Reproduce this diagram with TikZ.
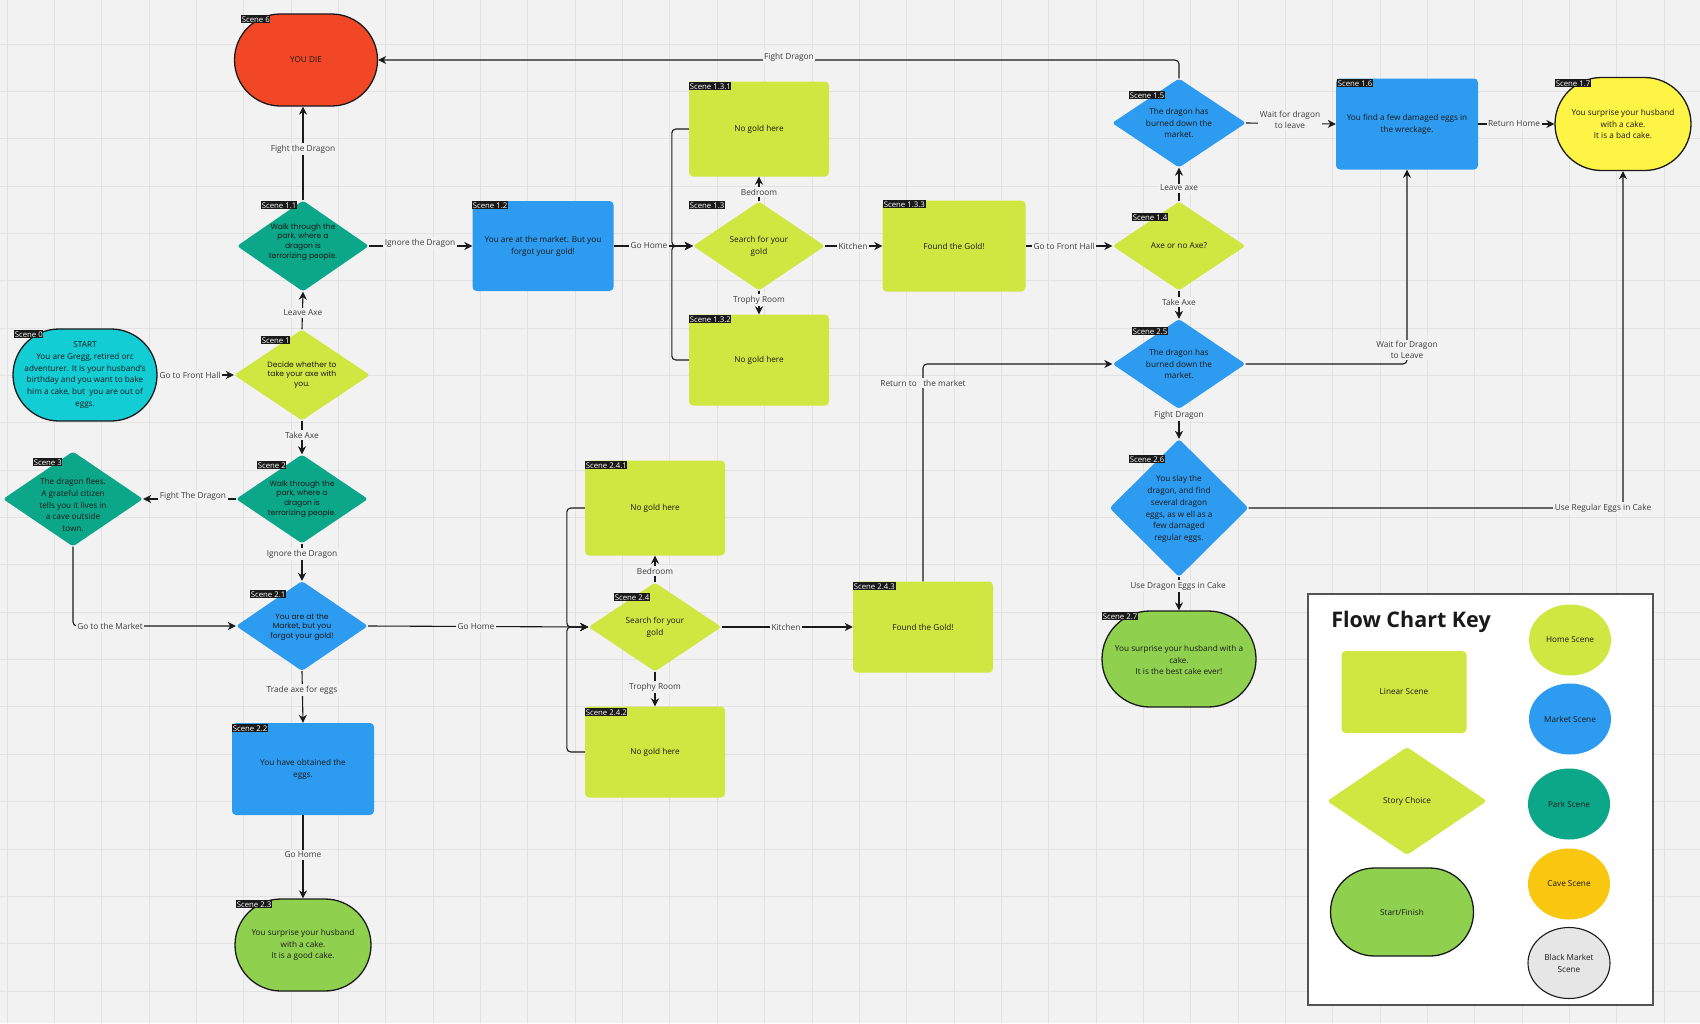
\documentclass[tikz,border=0pt]{standalone}
\usepackage{fontspec}
\setmainfont{Open Sans}
\newfontfamily\popfont{Poppins}
\usetikzlibrary{shapes.geometric,shapes.misc,arrows.meta}
\definecolor{bgc}{HTML}{F2F2F2}
\definecolor{gridc}{HTML}{E2E2E2}
\definecolor{lime}{HTML}{CEE741}
\definecolor{mblue}{HTML}{2D9BF0}
\definecolor{parkc}{HTML}{0CA789}
\definecolor{startc}{HTML}{12CDD4}
\definecolor{diec}{HTML}{F24726}
\definecolor{finc}{HTML}{8FD14F}
\definecolor{badc}{HTML}{FEF445}
\definecolor{cavec}{HTML}{FAC710}
\definecolor{blackmc}{HTML}{E6E6E6}
\definecolor{ink}{HTML}{1A1A1A}
\tikzset{
  box/.style={rectangle, rounded corners=4pt, inner sep=0pt, align=center, text=ink, font=\fontsize{8.2}{12}\selectfont},
  dia/.style={diamond, rounded corners=3pt, inner sep=0pt},
  stad/.style={rounded rectangle, draw=ink, line width=1.3pt, inner sep=0pt},
  oval/.style={ellipse, inner sep=0pt, minimum width=82, minimum height=71, align=center, text=ink, font=\fontsize{8.2}{12}\selectfont},
  txt/.style={align=center, text=ink, font=\fontsize{8.2}{11.8}\selectfont, inner sep=0pt},
  ptxt/.style={align=center, text=ink, font=\popfont\fontsize{7.6}{9.7}\selectfont, inner sep=0pt},
  tag/.style={fill=ink, text=white, font=\fontsize{7.8}{9}\selectfont, inner xsep=0.6pt, inner ysep=1.2pt, anchor=north west},
  conn/.style={draw=ink, line width=1.1pt, -{Stealth[length=8pt,width=8pt,inset=2.5pt]}, rounded corners=4pt},
  lbl/.style={fill=bgc, text=ink!85, font=\fontsize{8.3}{11}\selectfont, inner sep=1.5pt, align=center},
}
\begin{document}
\begin{tikzpicture}[x=1pt,y=-1pt]
\fill[bgc] (0,0) rectangle (1700,1023);
\useasboundingbox (0,0) rectangle (1700,1023);
\foreach \i in {0,...,35} {\draw[gridc, line width=0.9pt] ({7+47.35*\i},0) -- ({7+47.35*\i},1023);}
\foreach \i in {0,...,20} {\draw[gridc, line width=0.9pt] (0,{44+47.35*\i}) -- (1700,{44+47.35*\i});}

% ---------- shapes ----------
\node[stad, fill=diec, minimum width=143, minimum height=92] (s6) at (306,60) {};
\node[txt] (t6) at (s6) {YOU DIE};

\node[dia, fill=parkc, minimum width=132, minimum height=91] (s11) at (303,246) {};
\node[ptxt] (t11) at (303,242) {Walk through the\\park, where a\\dragon is\\terrorizing people.};

\node[dia, fill=lime, minimum width=136, minimum height=91] (s1) at (302,375) {};
\node[ptxt] (t1) at (302,375) {Decide whether to\\take your axe with\\you.};

\node[stad, fill=startc, minimum width=144, minimum height=92] (s0) at (85,375) {};
\node[txt] (t0) at (85,375) {START\\You are Gregg, retired orc\\adventurer. It is your husband's\\birthday and you want to bake\\him a cake, but\ \ you are out of\\eggs.};

\node[dia, fill=parkc, minimum width=132, minimum height=89] (s2) at (302,499) {};
\node[ptxt] (t2) at (302,499) {Walk through the\\park, where a\\dragon is\\terrorizing people.};

\node[dia, fill=parkc, minimum width=140, minimum height=95] (s3) at (73,499) {};
\node[txt] (t3) at (73,505) {The dragon flees.\\A grateful citizen\\tells you it lives in\\a cave outside\\town.};

\node[dia, fill=mblue, minimum width=132, minimum height=90] (s21) at (302,626) {};
\node[ptxt] (t21) at (302,627) {You are at the\\Market, but you\\forgot your gold!};

\node[box, fill=mblue, minimum width=142, minimum height=92] (s22) at (303,769) {You have obtained the\\eggs.};

\node[stad, fill=finc, minimum width=136, minimum height=92] (s23) at (303,945) {};
\node[txt] (t23) at (303,945) {You surprise your husband\\with a cake.\\It is a good cake.};

\node[box, fill=mblue, minimum width=141, minimum height=90] (s12) at (543,246) {You are at the market. But you\\forgot your gold!};

\node[box, fill=lime, minimum width=140, minimum height=95] (s131) at (759,129) {No gold here};
\node[dia, fill=lime, minimum width=132, minimum height=89] (s13) at (759,246) {};
\node[txt] (t13) at (759,246) {Search for your\\gold};
\node[box, fill=lime, minimum width=140, minimum height=91] (s132) at (759,360) {No gold here};
\node[box, fill=lime, minimum width=143, minimum height=91] (s133) at (954,246) {Found the Gold!};

\node[dia, fill=lime, minimum width=133, minimum height=89] (s14) at (1179,246) {};
\node[txt] (t14) at (1179,246) {Axe or no Axe?};
\node[dia, fill=mblue, minimum width=134, minimum height=89] (s15) at (1179,123) {};
\node[txt] (t15) at (1179,123) {The dragon has\\burned down the\\market.};
\node[dia, fill=mblue, minimum width=133, minimum height=90] (s25) at (1179,364) {};
\node[txt] (t25) at (1179,364) {The dragon has\\burned down the\\market.};
\node[dia, fill=mblue, minimum width=139, minimum height=138] (s26) at (1179,508) {};
\node[txt] (t26) at (1179,509) {You slay the\\dragon, and find\\several dragon\\eggs, as w ell as a\\few damaged\\regular eggs.};
\node[stad, fill=finc, minimum width=154, minimum height=96] (s27) at (1179,659) {};
\node[txt] (t27) at (1179,660) {You surprise your husband with a\\cake.\\It is the best cake ever!};

\node[box, fill=mblue, minimum width=142, minimum height=91] (s16) at (1407,124) {You find a few damaged eggs in\\the wreckage.};
\node[stad, fill=badc, minimum width=136, minimum height=93] (s17) at (1623,124) {};
\node[txt] (t17) at (1623,124) {You surprise your husband\\with a cake.\\It is a bad cake.};

\node[box, fill=lime, minimum width=140, minimum height=95] (s241) at (655,508) {No gold here};
\node[dia, fill=lime, minimum width=133, minimum height=89] (s24) at (655,627) {};
\node[txt] (t24) at (655,627) {Search for your\\gold};
\node[box, fill=lime, minimum width=140, minimum height=91] (s242) at (655,752) {No gold here};
\node[box, fill=lime, minimum width=140, minimum height=91] (s243) at (923,627) {Found the Gold!};

% ---------- scene tags ----------
\node[tag] (g6) at (241,15) {Scene 6};
\node[tag] (g11) at (261,201) {Scene 1.1};
\node[tag] (g1) at (261,336) {Scene 1};
\node[tag] (g0) at (14,330) {Scene 0};
\node[tag] (g2) at (257,461) {Scene 2};
\node[tag] (g3) at (33,458) {Scene 3};
\node[tag] (g21) at (250,590) {Scene 2.1};
\node[tag] (g22) at (232,724) {Scene 2.2};
\node[tag] (g23) at (236,900) {Scene 2.3};
\node[tag] (g12) at (472,201) {Scene 1.2};
\node[tag] (g131) at (689,82) {Scene 1.3.1};
\node[tag] (g13) at (689,201) {Scene 1.3};
\node[tag] (g132) at (689,315) {Scene 1.3.2};
\node[tag] (g133) at (883,200) {Scene 1.3.3};
\node[tag] (g14) at (1132,213) {Scene 1.4};
\node[tag] (g15) at (1129,91) {Scene 1.5};
\node[tag] (g25) at (1132,327) {Scene 2.5};
\node[tag] (g26) at (1129,455) {Scene 2.6};
\node[tag] (g27) at (1102,612) {Scene 2.7};
\node[tag] (g16) at (1337,79) {Scene 1.6};
\node[tag] (g17) at (1555,79) {Scene 1.7};
\node[tag] (g241) at (585,461) {Scene 2.4.1};
\node[tag] (g24) at (614,593) {Scene 2.4};
\node[tag] (g242) at (585,708) {Scene 2.4.2};
\node[tag] (g243) at (853,582) {Scene 2.4.3};

% ---------- connectors ----------
\draw[conn] (s0.east) -- (s1.west);
\draw[conn] (s1.north) -- (s11.south);
\draw[conn] (s11.north) -- (s11.north |- s6.south);
\draw[conn] (s11.east) -- (s12.west);
\draw[conn] (s1.south) -- (s2.north);
\draw[conn] (s2.west) -- (s3.east);
\draw[conn] (s2.south) -- (s21.north);
\draw[conn] (s3.south) |- (s21.west);
\draw[conn] (s21.south) -- (s22.north);
\draw[conn] (s22.south) -- (s23.north);
\draw[conn] (s12.east) -- (s13.west);
\draw[conn] (s131.west) -- ++(-17,0) |- (s13.west);
\draw[conn] (s132.west) -- ++(-17,0) |- (s13.west);
\draw[conn] (s13.north) -- (s131.south);
\draw[conn] (s13.south) -- (s132.north);
\draw[conn] (s13.east) -- (s133.west);
\draw[conn] (s133.east) -- (s14.west);
\draw[conn] (s14.north) -- (s15.south);
\draw[conn] (s14.south) -- (s25.north);
\draw[conn] (s15.north) |- (s6.east);
\draw[conn] (s15.east) -- (s16.west);
\draw[conn] (s16.east) -- (s17.west);
\draw[conn] (s25.east) -| (s16.south);
\draw[conn] (s243.north) |- (s25.west);
\draw[conn] (s25.south) -- (s26.north);
\draw[conn] (s26.south) -- (s27.north);
\draw[conn] (s26.east) -| (s17.south);
\draw[conn] (s21.east) -- (s24.west);
\draw[conn] (s24.north) -- (s241.south);
\draw[conn] (s24.south) -- (s242.north);
\draw[conn] (s24.east) -- (s243.west);
\draw[conn] (s241.west) -- ++(-18,0) |- (s24.west);
\draw[conn] (s242.west) -- ++(-18,0) |- (s24.west);

% ---------- connector labels ----------
\node[lbl] (l1) at (190,375) {Go to Front Hall};
\node[lbl] (l2) at (303,313) {Leave Axe};
\node[lbl] (l3) at (303,149) {Fight the Dragon};
\node[lbl] (l4) at (420,243) {Ignore the Dragon};
\node[lbl] (l5) at (302,435) {Take Axe};
\node[lbl] (l6) at (193,496) {Fight The Dragon};
\node[lbl] (l7) at (302,554) {Ignore the Dragon};
\node[lbl] (l8) at (110,626) {Go to the Market};
\node[lbl] (l9) at (302,690) {Trade axe for eggs};
\node[lbl] (l10) at (303,855) {Go Home};
\node[lbl] (l11) at (649,246) {Go Home};
\node[lbl] (l12) at (759,192) {Bedroom};
\node[lbl] (l13) at (759,300) {Trophy Room};
\node[lbl] (l14) at (853,246) {Kitchen};
\node[lbl] (l15) at (1064,246) {Go to Front Hall};
\node[lbl] (l16) at (1179,188) {Leave axe};
\node[lbl] (l17) at (1179,302) {Take Axe};
\node[lbl] (l18) at (789,57) {Fight Dragon};
\node[lbl] (l19) at (1290,120) {Wait for dragon\\to leave};
\node[lbl] (l20) at (1514,124) {Return Home};
\node[lbl] (l21) at (1407,350) {Wait for Dragon\\to Leave};
\node[lbl] (l22) at (923,383) {Return to\ \ \ the market};
\node[lbl] (l23) at (1179,415) {Fight Dragon};
\node[lbl] (l24) at (1178,586) {Use Dragon Eggs in Cake};
\node[lbl] (l25) at (1603,508) {Use Regular Eggs in Cake};
\node[lbl] (l26) at (476,627) {Go Home};
\node[lbl] (l27) at (655,571) {Bedroom};
\node[lbl] (l28) at (655,687) {Trophy Room};
\node[lbl] (l29) at (786,627) {Kitchen};

% ---------- key ----------
\node[draw=ink!75, line width=1.2pt, fill=white, minimum width=345, minimum height=411, inner sep=0pt] (key) at (1480.5,799.5) {};
\node[text=ink, font=\fontsize{21.5}{24}\selectfont\bfseries, inner sep=0pt] (keyt) at (1411,622) {Flow Chart Key};
\node[box, fill=lime, minimum width=125, minimum height=82] (klin) at (1404,692) {Linear Scene};
\node[dia, fill=lime, minimum width=160, minimum height=108] (kstory) at (1407,801) {};
\node[txt] (tkstory) at (1407,801) {Story Choice};
\node[stad, fill=finc, minimum width=143, minimum height=88] (kstart) at (1402,912) {};
\node[txt] (tkstart) at (1402,912) {Start/Finish};
\node[oval, fill=lime] (khome) at (1570,640) {Home Scene};
\node[oval, fill=mblue] (kmarket) at (1570,719) {Market Scene};
\node[oval, fill=parkc] (kpark) at (1569,804) {Park Scene};
\node[oval, fill=cavec] (kcave) at (1569,884) {Cave Scene};
\node[oval, fill=blackmc, draw=ink, line width=1.1pt] (kblack) at (1569,963) {Black Market\\Scene};
\end{tikzpicture}
\end{document}
